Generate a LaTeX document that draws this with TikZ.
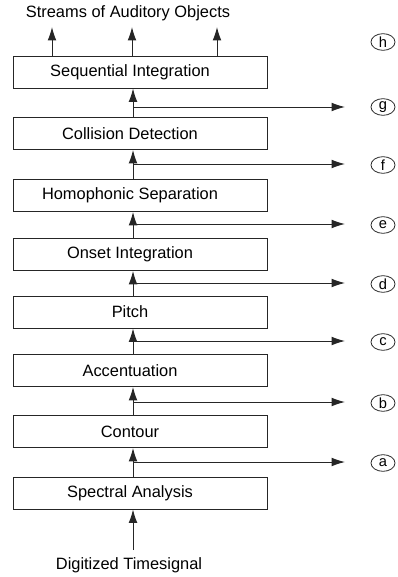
\documentclass[tikz,border=0pt]{standalone}
\usepackage{fontspec}
\setmainfont{Liberation Sans}
\usetikzlibrary{arrows.meta,shapes.geometric}

\tikzset{
  stage/.style={draw=black!85, line width=0.7pt, minimum width=190.5pt, minimum height=24pt,
    inner sep=0pt, font=\fontsize{12.3}{14}\selectfont,
    execute at end node=\hspace*{15pt}},
  flow/.style={draw=black!85, line width=0.7pt, -{Latex[length=10pt,width=6.5pt]}},
  tap/.style={draw=black!85, ellipse, line width=0.6pt, minimum width=18pt, minimum height=12.5pt,
    inner sep=0pt, font=\fontsize{11}{12}\selectfont},
  caption/.style={inner sep=0pt, font=\fontsize{12.3}{14}\selectfont}
}

\begin{document}
\begin{tikzpicture}[x=0.75pt,y=0.75pt,yscale=-1,xscale=1]
\useasboundingbox (0,0) rectangle (397,577);

% Stages, bottom to top
\node[stage] (spec) at (140,493) {Spectral Analysis};
\node[stage] (cont) at (140,431.5) {Contour};
\node[stage] (acc) at (140,370.5) {Accentuation};
\node[stage] (pitch) at (140,312) {Pitch};
\node[stage] (onset) at (140,254.5) {Onset Integration};
\node[stage] (homo) at (140,195.5) {Homophonic Separation};
\node[stage] (coll) at (140,133.5) {Collision Detection};
\node[stage] (seq) at (140,72) {Sequential Integration};

% Input and output texts
\node[caption] (sig) at (129,565) {Digitized Timesignal};
\node[caption] (streams) at (128,13) {Streams of Auditory Objects};

% Output taps
\node[tap] (a) at (383,463) {a};
\node[tap] (b) at (383,403) {b};
\node[tap] (c) at (383,342) {c};
\node[tap] (d) at (383,284) {d};
\node[tap] (e) at (383,225) {e};
\node[tap] (f) at (383,165) {f};
\node[tap] (g) at (383,107) {g};
\node[tap] (h) at (383,42) {h};

% Main line and branch points
\coordinate (vx) at (133,0);
\coordinate (ex) at (345,0);
\coordinate (in) at (133,550);
\coordinate (ba) at (133,462);
\coordinate (bb) at (133,402);
\coordinate (bc) at (133,341);
\coordinate (bd) at (133,283);
\coordinate (be) at (133,224);
\coordinate (bf) at (133,164);
\coordinate (bg) at (133,107);

% Vertical flow
\draw[flow] (in) -- (spec.south -| vx);
\draw[flow] (spec.north -| vx) -- (cont.south -| vx);
\draw[flow] (cont.north -| vx) -- (acc.south -| vx);
\draw[flow] (acc.north -| vx) -- (pitch.south -| vx);
\draw[flow] (pitch.north -| vx) -- (onset.south -| vx);
\draw[flow] (onset.north -| vx) -- (homo.south -| vx);
\draw[flow] (homo.north -| vx) -- (coll.south -| vx);
\draw[flow] (coll.north -| vx) -- (seq.south -| vx);

% Branches to the taps
\draw[flow] (ba) -- (ba -| ex);
\draw[flow] (bb) -- (bb -| ex);
\draw[flow] (bc) -- (bc -| ex);
\draw[flow] (bd) -- (bd -| ex);
\draw[flow] (be) -- (be -| ex);
\draw[flow] (bf) -- (bf -| ex);
\draw[flow] (bg) -- (bg -| ex);

% Outgoing streams
\draw[flow] (seq.north -| 52,0) -- (52,27);
\draw[flow] (seq.north -| 132,0) -- (132,27);
\draw[flow] (seq.north -| 217,0) -- (217,27);

\end{tikzpicture}
\end{document}
